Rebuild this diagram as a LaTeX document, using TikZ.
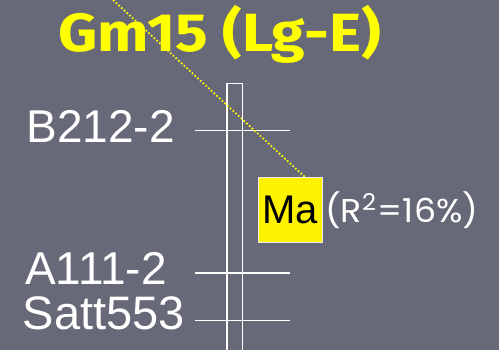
\documentclass[tikz,border=0pt]{standalone}
\usepackage{fontspec}
\setmainfont{Liberation Sans}
\newfontfamily\titlefont{Fira Sans}
\newfontfamily\rfont{Poppins}
\usetikzlibrary{calc}
\definecolor{bgc}{RGB}{103,105,120}
\definecolor{ttl}{RGB}{255,255,0}
\newcommand{\capbox}[3]{\resizebox{#1}{#2}{\smash{#3}\vphantom{E}}}
\begin{document}
\begin{tikzpicture}[x=1pt,y=-1pt,
  marker/.style={font=\fontsize{46}{46}\selectfont, text=white, inner sep=0pt, anchor=base east},
  tick/.style={draw=white, line width=1.6pt},
  chrom/.style={draw=white, line width=1.4pt},
]
\fill[bgc] (0,0) rectangle (499,350);
\useasboundingbox (0,0) rectangle (499,350);
% chromosome
\draw[chrom] (227,360) -- (227,83.5) -- (242.7,83.5) -- (242.7,360);
% ticks
\coordinate (t1a) at (195.3,130.7); \coordinate (t1b) at (290,130.7);
\coordinate (t2a) at (195.3,273.3); \coordinate (t2b) at (290,273.3);
\coordinate (t3a) at (195.3,320.7); \coordinate (t3b) at (290,320.7);
\draw[tick] (t1a) -- (t1b);
\draw[tick] (t2a) -- (t2b);
\draw[tick] (t3a) -- (t3b);
% labels
\node[marker] (b212) at (175,142.7) {B212-2};
\node[marker] (a111) at (167,285) {A111-2};
\node[marker,font=\fontsize{47}{47}\selectfont] (satt) at (185,330) {Satt553};
% title
\node[inner sep=0pt, anchor=base west, text=ttl] (title) at (58,52)
  {\capbox{323pt}{37pt}{\titlefont\bfseries Gm15 (Lg-E)}};
% QTL box
\node[fill=yellow, draw=white!85!gray, line width=0.8pt, minimum width=64.7pt, minimum height=64.6pt, inner sep=0pt,
  font=\fontsize{40}{40}\selectfont, text=black] (ma) at (290.35,210) {Ma};
\node[inner sep=0pt, anchor=base west, text=white] (r2) at (325,222.7)
  {\capbox{153pt}{22.7pt}{\rfont (R\textsuperscript{2}=16\%)}};
% dotted pointer
\coordinate (ptop) at (113,0);
\draw[ttl, line width=1.7pt, dotted] (ptop) -- ($(ma.north west)!0.727!(ma.north east)$);
\end{tikzpicture}
\end{document}
